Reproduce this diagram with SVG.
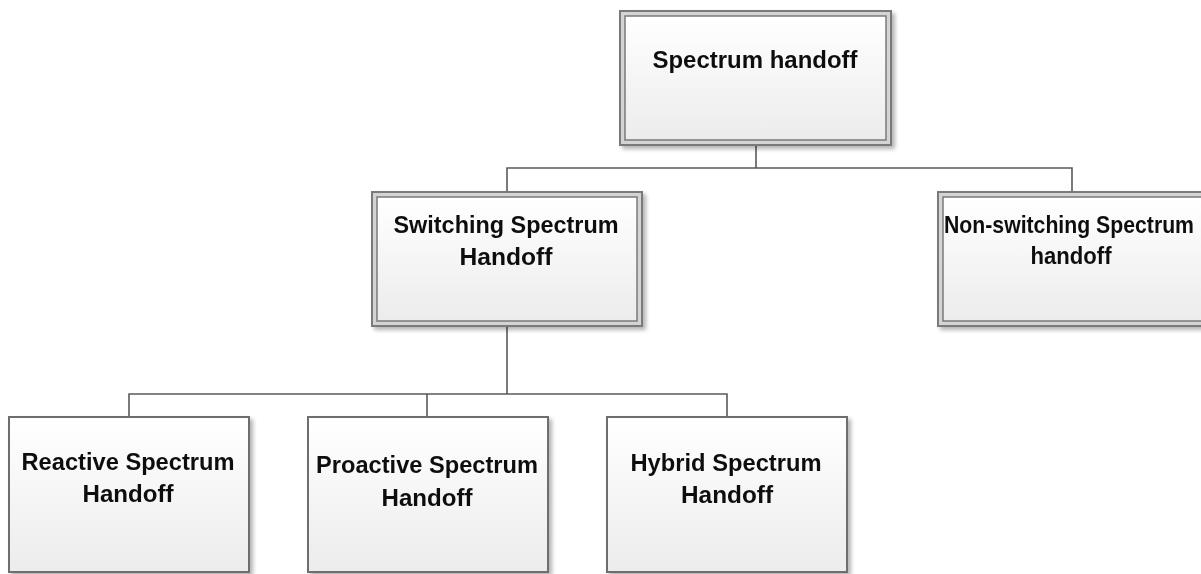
<svg xmlns="http://www.w3.org/2000/svg" width="1201" height="574" viewBox="0 0 1201 574">
  <defs>
    <linearGradient id="boxFill" x1="0" y1="0" x2="0" y2="1">
      <stop offset="0" stop-color="#ffffff"/>
      <stop offset="1" stop-color="#ececec"/>
    </linearGradient>
    <filter id="shadow" x="-5%" y="-5%" width="115%" height="115%">
      <feGaussianBlur in="SourceAlpha" stdDeviation="2"/>
      <feOffset dx="3" dy="3" result="blur"/>
      <feComponentTransfer><feFuncA type="linear" slope="0.3"/></feComponentTransfer>
      <feMerge><feMergeNode/><feMergeNode in="SourceGraphic"/></feMerge>
    </filter>
  </defs>
  <style>
    .frame { fill: #d4d4d4; stroke: #7a7a7a; stroke-width: 2; }
    .inner { fill: url(#boxFill); stroke: #7a7a7a; stroke-width: 1.5; }
    .single { fill: url(#boxFill); stroke: #6e6e6e; stroke-width: 2; }
    .label { font-family: "Liberation Sans", Arial, sans-serif; font-weight: bold; font-size: 24px; fill: #111111; text-anchor: middle; }
    .wire { fill: none; stroke: #5a5a5a; stroke-width: 1.6; }
  </style>
  <rect width="1201" height="574" fill="#ffffff"/>

  <!-- tree connectors -->
  <g id="connectors">
    <path class="wire" d="M756 146 V168"/>
    <path class="wire" d="M507 191 V168 H1072 V191"/>
    <path class="wire" d="M507 327 V394"/>
    <path class="wire" d="M129 416 V394 H727 V416"/>
    <path class="wire" d="M427 394 V416"/>
  </g>

  <!-- root -->
  <g id="spectrum-handoff" filter="url(#shadow)">
    <rect class="frame" x="620" y="11" width="271" height="134"/>
    <rect class="inner" x="625" y="16" width="261" height="124"/>
    <text class="label" x="755" y="68" textLength="205" lengthAdjust="spacingAndGlyphs">Spectrum handoff</text>
  </g>

  <!-- second level -->
  <g id="switching" filter="url(#shadow)">
    <rect class="frame" x="372" y="192" width="270" height="134"/>
    <rect class="inner" x="377" y="197" width="260" height="124"/>
    <text class="label" x="506" y="233" textLength="225" lengthAdjust="spacingAndGlyphs">Switching Spectrum</text>
    <text class="label" x="506" y="265" textLength="93" lengthAdjust="spacingAndGlyphs">Handoff</text>
  </g>

  <g id="non-switching" filter="url(#shadow)">
    <rect class="frame" x="938" y="192" width="270" height="134"/>
    <rect class="inner" x="943" y="197" width="260" height="124"/>
    <text class="label" x="1069" y="233" font-size="21.5" textLength="250" lengthAdjust="spacingAndGlyphs">Non-switching Spectrum</text>
    <text class="label" x="1071" y="264" textLength="81" lengthAdjust="spacingAndGlyphs">handoff</text>
  </g>

  <!-- third level -->
  <g id="reactive" filter="url(#shadow)">
    <rect class="single" x="9" y="417" width="240" height="155"/>
    <text class="label" x="128" y="470" textLength="213" lengthAdjust="spacingAndGlyphs">Reactive Spectrum</text>
    <text class="label" x="128" y="502" textLength="91" lengthAdjust="spacingAndGlyphs">Handoff</text>
  </g>

  <g id="proactive" filter="url(#shadow)">
    <rect class="single" x="308" y="417" width="240" height="155"/>
    <text class="label" x="427" y="473" textLength="222" lengthAdjust="spacingAndGlyphs">Proactive Spectrum</text>
    <text class="label" x="427" y="506" textLength="91" lengthAdjust="spacingAndGlyphs">Handoff</text>
  </g>

  <g id="hybrid" filter="url(#shadow)">
    <rect class="single" x="607" y="417" width="240" height="155"/>
    <text class="label" x="726" y="471" textLength="191" lengthAdjust="spacingAndGlyphs">Hybrid Spectrum</text>
    <text class="label" x="727" y="503" textLength="92" lengthAdjust="spacingAndGlyphs">Handoff</text>
  </g>
</svg>
